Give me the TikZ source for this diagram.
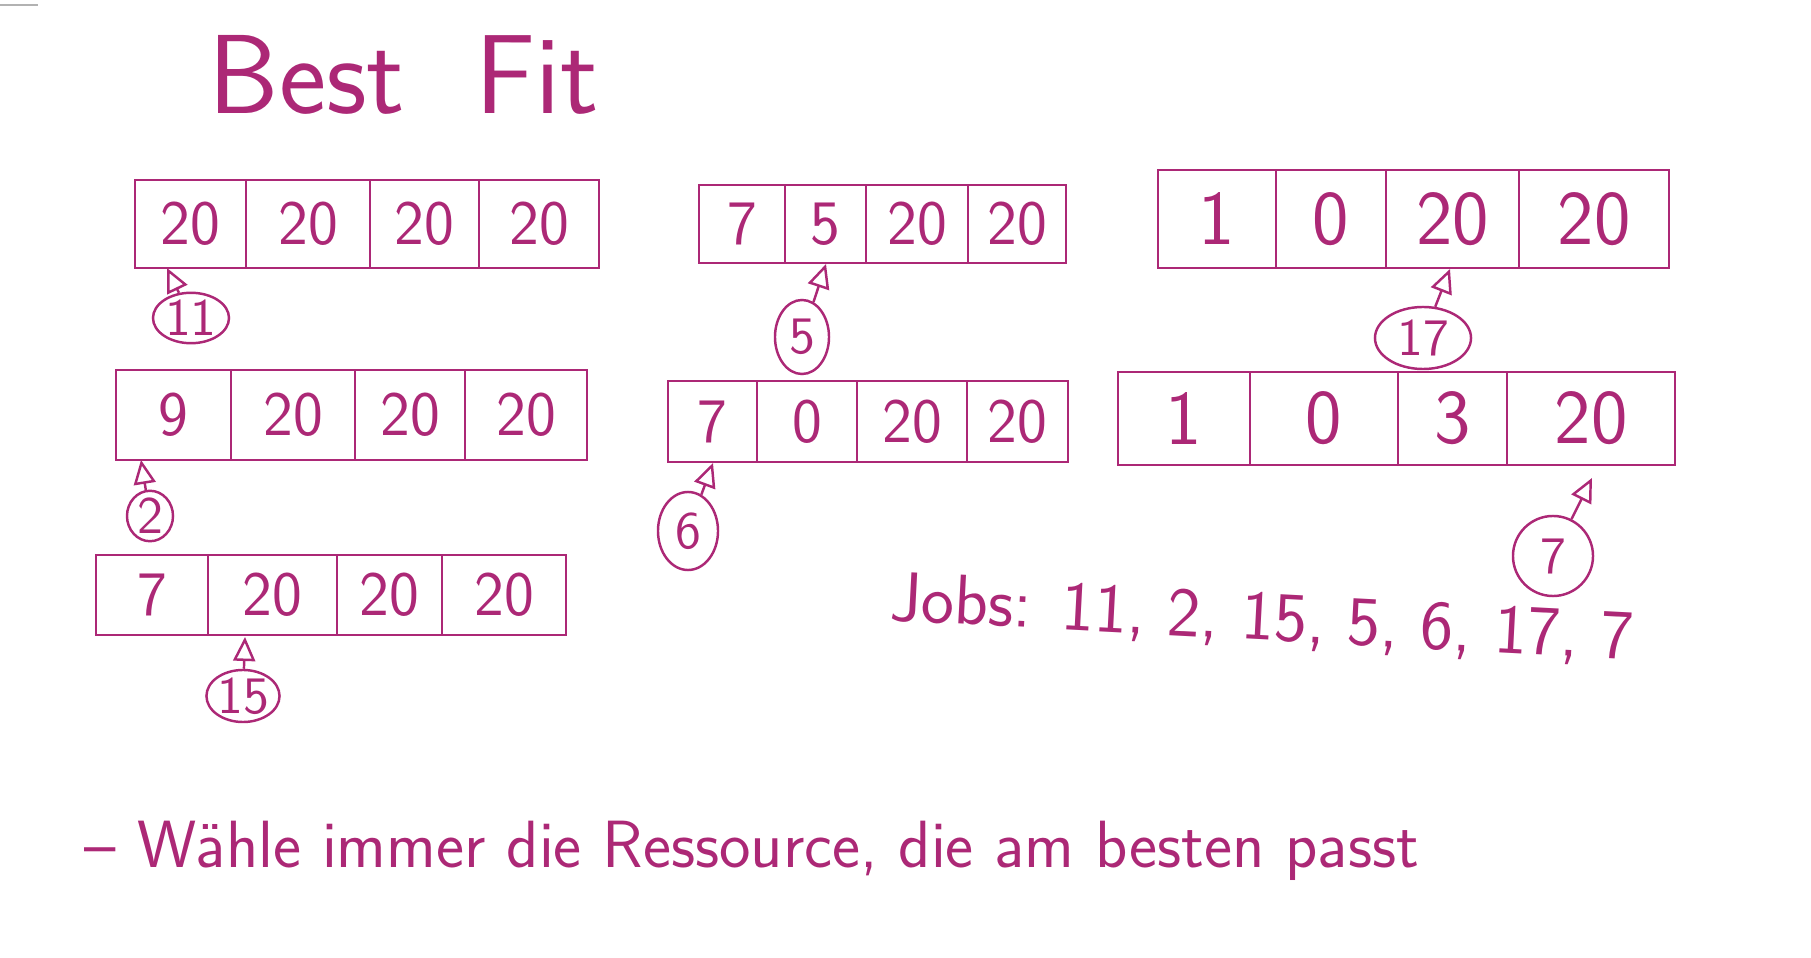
\documentclass[tikz,border=0pt]{standalone}
\usepackage{tikz}
\usetikzlibrary{shapes.geometric,arrows.meta}
\definecolor{ink}{RGB}{172,40,118}
\tikzset{
  cell/.style={draw=ink,rectangle,inner sep=0pt,text=ink,font=\sffamily\fontsize{18}{20}\selectfont},
  bigcell/.style={cell,font=\sffamily\fontsize{22}{24}\selectfont},
  job/.style={draw=ink,ellipse,inner sep=0pt,text=ink,font=\sffamily\fontsize{15}{17}\selectfont},
  pointer/.style={draw=ink,-{Triangle[open,length=2.4mm,width=2.2mm]}},
  hand/.style={text=ink,font=\sffamily\fontsize{#1}{#1}\selectfont},
}
\begin{document}
\begin{tikzpicture}[x=0.01cm,y=-0.01cm,line width=0.7pt]
			\useasboundingbox (0,0) rectangle (1811,958);
			\draw[gray!60,line width=0.6pt] (0,5) -- (38,5);
			
			\node[hand=32,anchor=base west] (title) at (196,114) {Best\ \ Fit};
			
			% first column
			\node[cell,minimum width=1.11cm,minimum height=0.88cm] (a11) at (190.5,224) {20};
			\node[cell,minimum width=1.24cm,minimum height=0.88cm] (a12) at (308,224) {20};
			\node[cell,minimum width=1.09cm,minimum height=0.88cm] (a13) at (424.5,224) {20};
			\node[cell,minimum width=1.20cm,minimum height=0.88cm] (a14) at (539,224) {20};
			
			\node[cell,minimum width=1.15cm,minimum height=0.90cm] (a21) at (173.5,415) {9};
			\node[cell,minimum width=1.24cm,minimum height=0.90cm] (a22) at (293,415) {20};
			\node[cell,minimum width=1.10cm,minimum height=0.90cm] (a23) at (410,415) {20};
			\node[cell,minimum width=1.22cm,minimum height=0.90cm] (a24) at (526,415) {20};
			
			\node[cell,minimum width=1.12cm,minimum height=0.80cm] (a31) at (152,595) {7};
			\node[cell,minimum width=1.29cm,minimum height=0.80cm] (a32) at (272.5,595) {20};
			\node[cell,minimum width=1.05cm,minimum height=0.80cm] (a33) at (389.5,595) {20};
			\node[cell,minimum width=1.24cm,minimum height=0.80cm] (a34) at (504,595) {20};
			
			% second column
			\node[cell,minimum width=0.86cm,minimum height=0.78cm] (b11) at (742,224) {7};
			\node[cell,minimum width=0.81cm,minimum height=0.78cm] (b12) at (825.5,224) {5};
			\node[cell,minimum width=1.02cm,minimum height=0.78cm] (b13) at (917,224) {20};
			\node[cell,minimum width=0.98cm,minimum height=0.78cm] (b14) at (1017,224) {20};
			
			\node[cell,minimum width=0.89cm,minimum height=0.81cm] (b21) at (712.5,421.5) {7};
			\node[cell,minimum width=1.00cm,minimum height=0.81cm] (b22) at (807,421.5) {0};
			\node[cell,minimum width=1.10cm,minimum height=0.81cm] (b23) at (912,421.5) {20};
			\node[cell,minimum width=1.01cm,minimum height=0.81cm] (b24) at (1017.5,421.5) {20};
			
			% third column
			\node[bigcell,minimum width=1.18cm,minimum height=0.98cm] (c11) at (1217,219) {1};
			\node[bigcell,minimum width=1.10cm,minimum height=0.98cm] (c12) at (1331,219) {0};
			\node[bigcell,minimum width=1.33cm,minimum height=0.98cm] (c13) at (1452.5,219) {20};
			\node[bigcell,minimum width=1.50cm,minimum height=0.98cm] (c14) at (1594,219) {20};
			
			\node[bigcell,minimum width=1.32cm,minimum height=0.93cm] (c21) at (1184,418.5) {1};
			\node[bigcell,minimum width=1.48cm,minimum height=0.93cm] (c22) at (1324,418.5) {0};
			\node[bigcell,minimum width=1.09cm,minimum height=0.93cm] (c23) at (1452.5,418.5) {3};
			\node[bigcell,minimum width=1.68cm,minimum height=0.93cm] (c24) at (1591,418.5) {20};
			
			% jobs
			\node[job,minimum width=0.76cm,minimum height=0.50cm] (j11) at (191,318) {11};
			\node[job,minimum width=0.46cm,minimum height=0.48cm] (j2) at (150,516) {2};
			\node[job,minimum width=0.72cm,minimum height=0.52cm] (j15) at (243,696) {15};
			\node[job,minimum width=0.54cm,minimum height=0.74cm] (j5) at (802,337) {5};
			\node[job,minimum width=0.60cm,minimum height=0.78cm] (j6) at (688,531) {6};
			\node[job,minimum width=0.96cm,minimum height=0.62cm] (j17) at (1423,338) {17};
			\node[job,minimum width=0.80cm,minimum height=0.80cm] (j7) at (1553,556) {7};
			
			\coordinate (t11) at (167,268);
			\coordinate (t2) at (141,460);
			\coordinate (t15) at (245,637);
			\coordinate (t5) at (826,264);
			\coordinate (t6) at (713,463);
			\coordinate (t17) at (1450,269);
			\coordinate (t7) at (1592,478);
			
			\draw[pointer] (j11) -- (t11);
			\draw[pointer] (j2) -- (t2);
			\draw[pointer] (j15) -- (t15);
			\draw[pointer] (j5) -- (t5);
			\draw[pointer] (j6) -- (t6);
			\draw[pointer] (j17) -- (t17);
			\draw[pointer] (j7) -- (t7);
			
			\node[hand=20,rotate=-3] (jobs) at (1262,620) {Jobs: 11, 2, 15, 5, 6, 17, 7};
			\node[hand=19,anchor=base west] (rule) at (72,868) {-- Wähle immer die Ressource, die am besten passt};
		\end{tikzpicture}
\end{document}
